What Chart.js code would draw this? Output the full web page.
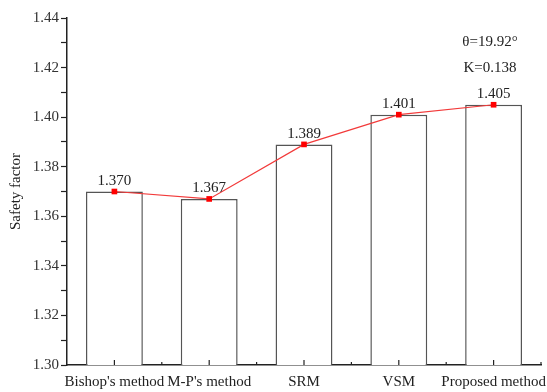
<!DOCTYPE html>
<html>
<head>
<meta charset="utf-8">
<script src="https://cdn.jsdelivr.net/npm/chart.js@4/dist/chart.umd.min.js"></script>
<style>
    html, body { margin: 0; padding: 0; background: #fff; }
    #wrap { width: 547px; height: 392px; }
</style>
</head>
<body>
<div id="wrap"><canvas id="safety"></canvas></div>
<script>
const methods = ["Bishop's method", "M-P's method", 'SRM', 'VSM', 'Proposed method'];
const safetyFactors = [1.370, 1.367, 1.389, 1.401, 1.405];
const notes = ['\u03b8=19.92\u00b0', 'K=0.138'];

const serif = '"Liberation Serif", "Times New Roman", serif';

// small ticks on the category axis, pointing up into the plot
const xTickMarks = {
    id: 'xTickMarks',
    afterDraw(chart) {
        const ctx = chart.ctx;
        const x = chart.scales.x;
        const bottom = chart.chartArea.bottom;
        ctx.save();
        ctx.strokeStyle = '#222';
        ctx.lineWidth = 1.2;
        const half = (x.getPixelForValue(1) - x.getPixelForValue(0)) / 2;
        methods.forEach((m, i) => {
            const cx = x.getPixelForValue(i);
            ctx.beginPath();
            ctx.moveTo(cx, bottom);
            ctx.lineTo(cx, bottom - 5);
            ctx.stroke();
            ctx.beginPath();
            ctx.moveTo(cx + half, bottom);
            ctx.lineTo(cx + half, bottom - 3);
            ctx.stroke();
        });
        ctx.restore();
    }
};

// value labels over the markers and the parameter notes
const valueLabels = {
    id: 'valueLabels',
    afterDatasetsDraw(chart) {
        const ctx = chart.ctx;
        const meta = chart.getDatasetMeta(1);
        ctx.save();
        ctx.fillStyle = '#222';
        ctx.font = '15px ' + serif;
        ctx.textAlign = 'center';
        ctx.textBaseline = 'bottom';
        meta.data.forEach((pt, i) => {
            ctx.fillText(safetyFactors[i].toFixed(3), pt.x, pt.y - 3);
        });
        ctx.textBaseline = 'middle';
        ctx.fillText(notes[0], 490, 42);
        ctx.fillText(notes[1], 490, 68);
        ctx.restore();
    }
};

new Chart(document.getElementById('safety'), {
    type: 'bar',
    data: {
        labels: methods,
        datasets: [{
            type: 'bar',
            data: safetyFactors,
            backgroundColor: '#fff',
            borderColor: '#555',
            borderWidth: 1.5,
            borderSkipped: 'bottom',
            barPercentage: 0.6,
            categoryPercentage: 1,
            order: 2
        }, {
            type: 'line',
            data: safetyFactors,
            borderColor: '#f23a3a',
            borderWidth: 1.2,
            pointStyle: 'rect',
            pointRadius: 4,
            pointBackgroundColor: '#ff0000',
            pointBorderColor: '#ff0000',
            pointBorderWidth: 0,
            tension: 0,
            order: 1
        }]
    },
    options: {
        responsive: true,
        maintainAspectRatio: false,
        animation: false,
        layout: { padding: { top: 18, right: 6, left: 0, bottom: 0 } },
        plugins: {
            legend: { display: false },
            tooltip: { enabled: false }
        },
        scales: {
            x: {
                grid: { display: false, drawTicks: false },
                border: { color: '#222', width: 1.5 },
                ticks: {
                    color: '#222',
                    font: { family: serif, size: 15 },
                    padding: 8,
                    maxRotation: 0,
                    autoSkip: false
                },
                afterFit(s) {
                    s.height = 27;
                    // let the last label run into the right margin
                    s.paddingLeft = 0;
                    s.paddingRight = 0;
                }
            },
            y: {
                min: 1.30,
                max: 1.44,
                border: { color: '#222', width: 1.5 },
                grid: {
                    drawOnChartArea: false,
                    drawTicks: true,
                    tickLength: 6,
                    tickColor: '#222',
                    tickWidth: 1.2
                },
                ticks: {
                    stepSize: 0.01,
                    color: '#333',
                    font: { family: serif, size: 15 },
                    padding: 2,
                    callback(v, i) {
                        return i % 2 === 0 ? v.toFixed(2) : '';
                    }
                },
                title: {
                    display: true,
                    text: 'Safety factor',
                    color: '#222',
                    font: { family: serif, size: 15 },
                    padding: { top: 7, bottom: 0 }
                },
                afterFit(s) { s.width = 67; }
            }
        }
    },
    plugins: [xTickMarks, valueLabels]
});
</script>
</body>
</html>
